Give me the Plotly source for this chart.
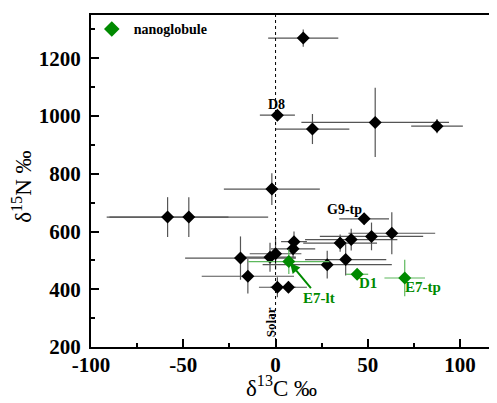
import plotly.graph_objects as go

# Black points (other samples)
c13 = [15, 1, 20, 54, 87.5, -2, -58.5, -47, 48, 63, 52, 41, 35, 38, 28, 10, 9.5, 0, -3, -19, -15, 1, 7]
n15 = [1270, 1003, 955, 978, 965, 747, 650, 650, 644, 594, 583, 572, 560, 503, 485, 565, 540, 523, 511, 508, 445, 407, 407]
c13_err = [19, 9.5, 20, 40, 14, 26, 33, 43, 13.5, 23.5, 28, 25, 20, 22, 35, 7, 12, 14, 14, 30, 25, 10, 10]
n15_err = [30, 15, 52, 120, 25, 55, 69, 69, 20, 73, 48, 38, 30, 55, 48, 35, 30, 55, 50, 75, 60, 35, 20]

# Green points (nanoglobule)
g_c13 = [7.2, 44.2, 70]
g_n15 = [496, 452, 439]
g_c13_err = [22, 6, 11]
g_n15_err = [43, 15, 63]

x_ticks = [-100, -50, 0, 50, 100]
y_ticks = [200, 400, 600, 800, 1000, 1200]

FONT = "Liberation Serif"
GREEN = "#008a00"

fig = go.Figure()

fig.add_trace(go.Scatter(
    x=c13, y=n15, mode="markers", showlegend=False,
    marker=dict(symbol="diamond", size=10, color="black"),
    error_x=dict(type="data", array=c13_err, color="#555555", thickness=1.2, width=0),
    error_y=dict(type="data", array=n15_err, color="#555555", thickness=1.2, width=0),
))

fig.add_trace(go.Scatter(
    x=g_c13, y=g_n15, mode="markers", name="<b>nanoglobule</b>",
    marker=dict(symbol="diamond", size=10, color=GREEN),
    error_x=dict(type="data", array=g_c13_err, color="#5cb85c", thickness=1.2, width=0),
    error_y=dict(type="data", array=g_n15_err, color="#5cb85c", thickness=1.2, width=0),
))

fig.add_shape(type="line", xref="x", yref="paper", x0=0, x1=0, y0=0, y1=1,
              line=dict(color="black", width=1, dash="dot"))

lab = dict(family=FONT, size=14, color="black")
glab = dict(family=FONT, size=15, color=GREEN)
fig.add_annotation(x=0.5, y=1041, text="<b>D8</b>", showarrow=False, font=lab)
fig.add_annotation(x=37.5, y=676, text="<b>G9-tp</b>", showarrow=False, font=lab)
fig.add_annotation(x=50, y=421, text="<b>D1</b>", showarrow=False, font=glab)
fig.add_annotation(x=80, y=407, text="<b>E7-tp</b>", showarrow=False, font=glab)
fig.add_annotation(x=7.2, y=496, text="<b>E7-lt</b>", showarrow=True, ax=30, ay=36,
                   arrowhead=2, arrowsize=1, arrowwidth=2, arrowcolor=GREEN, font=glab,
                   standoff=2)
fig.add_annotation(x=-3, y=286, text="<b>Solar</b>", showarrow=False, textangle=-90,
                   font=dict(family=FONT, size=13, color="black"))

# Axis titles as paper annotations
fig.add_annotation(xref="paper", yref="paper", x=0.470, y=-0.12, xanchor="center", yanchor="middle",
                   text="δ<sup>13</sup>C ‰",
                   showarrow=False, font=dict(family=FONT, size=23, color="black"))
fig.add_annotation(xref="paper", yref="paper", x=-0.168, y=0.482, xanchor="center", yanchor="middle",
                   text="δ<sup>15</sup>N ‰",
                   showarrow=False, textangle=-90, font=dict(family=FONT, size=23, color="black"))

fig.update_layout(
    width=497, height=403,
    margin=dict(l=83, r=8, t=5, b=64),
    plot_bgcolor="white", paper_bgcolor="white",
    font=dict(family=FONT, color="black"),
    legend=dict(x=-0.003, y=1.005, xanchor="left", yanchor="top", bgcolor="rgba(0,0,0,0)",
                font=dict(family=FONT, size=14), itemsizing="constant", itemwidth=34),
    xaxis=dict(range=[-100, 120], tickvals=x_ticks, ticktext=[f"<b>{v}</b>" for v in x_ticks],
               ticks="inside", ticklen=8, tickwidth=2, tickcolor="black",
               showline=True, linecolor="black", linewidth=2, mirror=True,
               showgrid=False, zeroline=False, automargin=False,
               minor=dict(dtick=25, ticks="inside", ticklen=4, tickwidth=1.5, tickcolor="black"),
               tickfont=dict(family=FONT, size=21), ticklabelstandoff=-2),
    yaxis=dict(range=[200, 1350], tickvals=y_ticks, ticktext=[f"<b>{v}</b>" for v in y_ticks],
               ticks="inside", ticklen=8, tickwidth=2, tickcolor="black",
               showline=True, linecolor="black", linewidth=2, mirror=False,
               showgrid=False, zeroline=False, automargin=False,
               minor=dict(dtick=100, ticks="inside", ticklen=4, tickwidth=1.5, tickcolor="black"),
               tickfont=dict(family=FONT, size=21), ticklabelstandoff=4),
)

fig.write_html("out.html")
